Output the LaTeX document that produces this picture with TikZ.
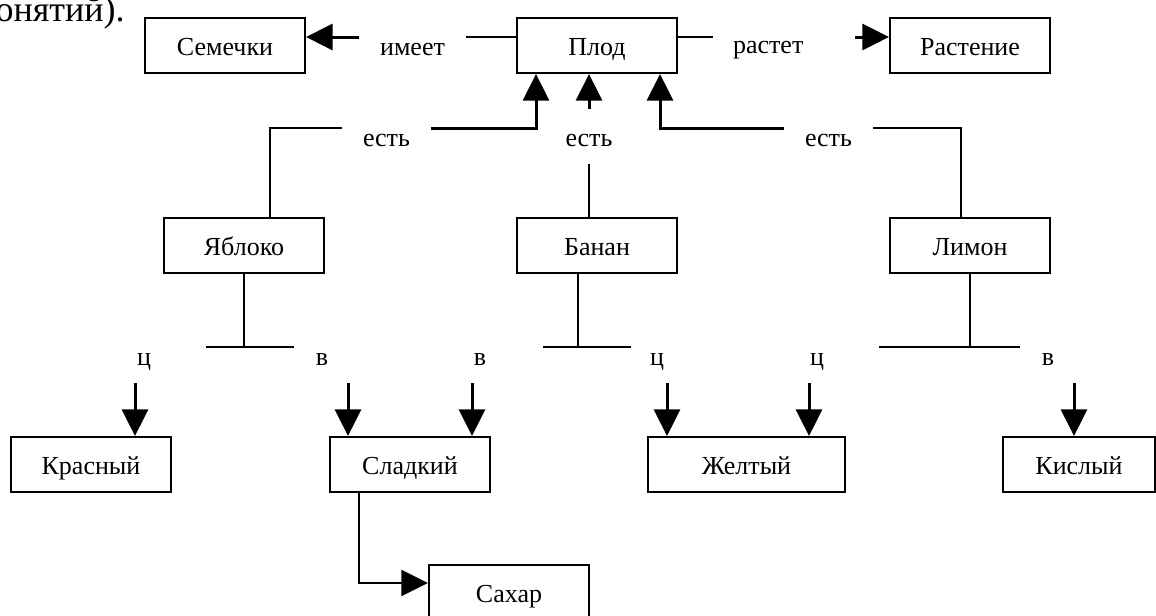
\documentclass[tikz,border=0pt]{standalone}
\usepackage{fontspec}
\setmainfont{Liberation Serif}
\usetikzlibrary{arrows.meta}

\begin{document}
\begin{tikzpicture}[x=0.75pt,y=-0.75pt,
    every node/.style={font=\fontsize{19.5}{22}\selectfont},
    box/.style={draw,line width=1.5pt,minimum width=120pt,minimum height=41.25pt,inner sep=0pt,text height=17pt,text depth=2.75pt},
    rel/.style={inner sep=0pt,minimum height=22.5pt,text height=17pt,text depth=2.75pt},
    link/.style={line width=1.5pt},
    tip/.style={-{Triangle[width=19.5pt,length=20pt]}},
    arrow/.style={line width=2.25pt,tip}]
    \useasboundingbox (0,0) rectangle (1156,615);
    \node[anchor=base east,inner sep=0pt,font=\fontsize{27}{30}\selectfont] (intro) at (125,21.5) {понятий).};
    \node[box] (semechki) at (225,45.5)   {Семечки};
    \node[box] (plod)     at (597,45.5)   {Плод};
    \node[box] (rastenie) at (970,45.5)   {Растение};
    \node[box] (yabloko)  at (244,245.5)  {Яблоко};
    \node[box] (banan)    at (597,245.5)  {Банан};
    \node[box] (limon)    at (970,245.5)  {Лимон};
    \node[box] (krasny)   at (91,464.5)   {Красный};
    \node[box] (sladky)   at (410,464.5)  {Сладкий};
    \node[box,minimum width=147.75pt] (zhelty) at (746.5,464.5) {Желтый};
    \node[box,minimum width=114pt]    (kisly)  at (1079,464.5)  {Кислый};
    \node[box] (sahar)    at (509,592.5)  {Сахар};
    \node[rel,minimum width=80.25pt] (imeet) at (412.5,45.5) {имеет};
    \node[rel,text width=106.5pt,align=left] (rastet) at (784,44) {\hspace*{15pt}растет};
    \node[rel,minimum width=66.75pt] (est1) at (386.5,136.5) {есть};
    \node[rel,minimum height=41.25pt] (est2) at (589,136.5) {есть};
    \node[rel,minimum width=66.75pt] (est3) at (828.5,136.5) {есть};
    \node[rel,minimum width=93pt,minimum height=41.25pt]   (c1) at (144,355.5)  {ц};
    \node[rel,minimum width=42pt,minimum height=41.25pt]   (v1) at (322,355.5)  {в};
    \node[rel,minimum width=94.5pt,minimum height=41.25pt] (v2) at (480,355.5)  {в};
    \node[rel,minimum width=39pt,minimum height=41.25pt]   (c2) at (657,355.5)  {ц};
    \node[rel,minimum width=93pt,minimum height=41.25pt]   (c3) at (817,355.5)  {ц};
    \node[rel,minimum width=42pt,minimum height=41.25pt]   (v3) at (1048,355.5) {в};
    \coordinate (top bus) at (0,128);
    \coordinate (low bus) at (0,347);
    \coordinate (has) at ([yshift=6.375pt]plod.west);
    \coordinate (grows) at ([yshift=6.375pt]plod.east);
    \coordinate (apple up) at ([xshift=19.5pt]yabloko.north);
    \coordinate (banana up) at ([xshift=-6pt]banan.north);
    \coordinate (lemon up) at ([xshift=-6.75pt]limon.north);
    \coordinate (fruit left) at ([xshift=-45.75pt]plod.south);
    \coordinate (fruit right) at ([xshift=47.25pt]plod.south);
    \coordinate (banana down) at ([xshift=-14.25pt]banan.south);
    \coordinate (red in) at ([xshift=33pt]krasny.north);
    \coordinate (sweet left) at ([xshift=-46.5pt]sladky.north);
    \coordinate (sweet right) at ([xshift=46.5pt]sladky.north);
    \coordinate (yellow left) at ([xshift=-59.625pt]zhelty.north);
    \coordinate (yellow right) at ([xshift=46.875pt]zhelty.north);
    \coordinate (sour in) at ([xshift=-3.75pt]kisly.north);
    \draw[link]  (has) -- (has -| imeet.east);
    \draw[arrow] (has -| imeet.west) -- (has -| semechki.east);
    \draw[link]  (grows) -- (grows -| rastet.west);
    \draw[arrow] (grows -| rastet.east) -- (grows -| rastenie.west);
    \draw[link]  (apple up) |- (top bus -| est1.west);
    \draw[arrow] (top bus -| est1.east) -| (fruit left);
    \draw[link]  (banana up) -- (banana up |- est2.south);
    \draw[arrow] (banana up |- est2.north) -- (banana up |- plod.south);
    \draw[link]  (lemon up) |- (top bus -| est3.east);
    \draw[arrow] (top bus -| est3.west) -| (fruit right);
    \draw[link]  (yabloko.south) |- (low bus -| c1.east);
    \draw[link]  (yabloko.south) |- (low bus -| v1.west);
    \draw[link]  (banana down) |- (low bus -| v2.east);
    \draw[link]  (banana down) |- (low bus -| c2.west);
    \draw[link]  (limon.south) |- (low bus -| c3.east);
    \draw[link]  (limon.south) |- (low bus -| v3.west);
    \draw[arrow] (c1.south -| red in) -- (red in);
    \draw[arrow] (v1.south -| sweet left) -- (sweet left);
    \draw[arrow] (v2.south -| sweet right) -- (sweet right);
    \draw[arrow] (c2.south -| yellow left) -- (yellow left);
    \draw[arrow] (c3.south -| yellow right) -- (yellow right);
    \draw[arrow] (v3.south -| sour in) -- (sour in);
    \draw[link,tip] ([xshift=-38.25pt]sladky.south) |- ([yshift=7.125pt]sahar.west);
\end{tikzpicture}
\end{document}
